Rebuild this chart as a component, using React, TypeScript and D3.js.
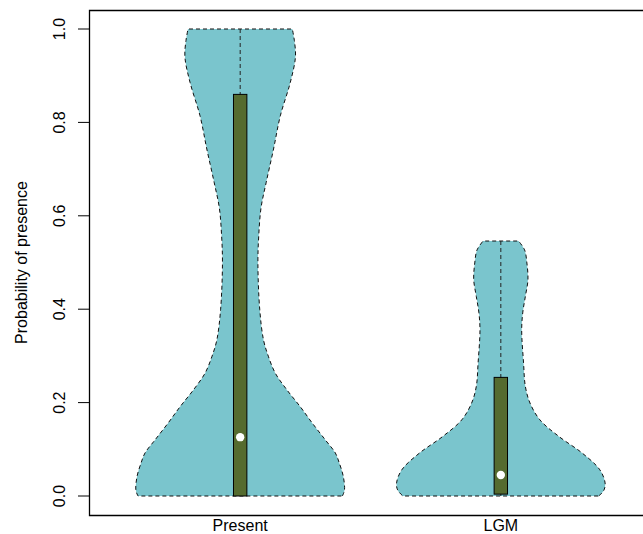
import React from 'react'
import * as d3 from 'd3'

// violin outlines: probability level and relative density (max = 1)
const categories = ['Present', 'LGM']

const presentLevels = [0, 0.012, 0.041, 0.071, 0.092, 0.12, 0.156, 0.191, 0.227, 0.263, 0.298, 0.334, 0.4, 0.499, 0.557, 0.617, 0.672, 0.743, 0.814, 0.885, 0.94, 0.975, 1.0]
const presentDensity = [0.98, 1.0, 0.99, 0.95, 0.913, 0.817, 0.692, 0.577, 0.449, 0.337, 0.272, 0.224, 0.1875, 0.17, 0.178, 0.2, 0.25, 0.32, 0.385, 0.48, 0.53, 0.52, 0.5]

const lgmLevels = [0, 0.013, 0.028, 0.056, 0.092, 0.127, 0.163, 0.199, 0.235, 0.285, 0.355, 0.392, 0.427, 0.463, 0.499, 0.527, 0.546]
const lgmDensity = [0.94, 0.99, 1.0, 0.95, 0.78, 0.56, 0.375, 0.28, 0.235, 0.218, 0.2, 0.21, 0.235, 0.26, 0.25, 0.228, 0.17]

// box summaries: min, q1, median, q3, max
const presentStats = [0, 0, 0.126, 0.86, 1.0]
const lgmStats = [0, 0.004, 0.045, 0.254, 0.546]

const yTicks = [0, 0.2, 0.4, 0.6, 0.8, 1.0]

const W = 643
const H = 534
const font = '"Liberation Sans", Arial, Helvetica, sans-serif'
const fs = 16

export default function App() {
  const x = d3.scaleLinear().domain([0.42, 2.58]).range([89, 652])
  const y = d3.scaleLinear().domain([0, 1]).range([496, 29])
  const wex = 0.4
  const boxHalf = 0.0257

  const series = [
    { name: categories[0], levels: presentLevels, dens: presentDensity, stats: presentStats },
    { name: categories[1], levels: lgmLevels, dens: lgmDensity, stats: lgmStats },
  ]

  const top = 10
  const bottom = 515
  const left = x(0.42)
  const right = x(2.58)

  return <svg width={W} height={H} style={{ position: 'absolute', left: 0, top: 0, background: 'white' }}>
    {series.map((s, i) => {
      const c = i + 1
      const pts = s.levels.map((v, j) => ({ v, d: s.dens[j] }))
      const area = d3.area<{ v: number, d: number }>()
        .y(p => y(p.v))
        .x0(p => x(c - p.d * wex))
        .x1(p => x(c + p.d * wex))
        .curve(d3.curveCatmullRom)
      const [mn, q1, med, q3, mx] = s.stats
      return <g key={s.name}>
        <path d={area(pts) || ''} fill="#7AC5CD" stroke="#111" strokeWidth={1} strokeDasharray="4,3" />
        <line x1={x(c)} x2={x(c)} y1={y(mx)} y2={y(mn)} stroke="#222" strokeWidth={1} strokeDasharray="4,3" />
        <rect x={x(c - boxHalf)} y={y(q3)} width={x(c + boxHalf) - x(c - boxHalf)} height={y(q1) - y(q3)}
              fill="#556B2F" stroke="black" strokeWidth={1} />
        <circle cx={x(c)} cy={y(med)} r={4.2} fill="white" />
        <text x={x(c)} y={531} textAnchor="middle" fontFamily={font} fontSize={fs}>{s.name}</text>
      </g>
    })}

    <path d={`M${right},${top + 0.5}H${left + 0.5}V${bottom + 0.5}H${right}`} fill="none" stroke="black" strokeWidth={1.3} />

    {yTicks.map(t => <g key={t}>
      <line x1={78} x2={left} y1={y(t)} y2={y(t)} stroke="black" strokeWidth={1} />
      <text transform={`translate(65,${y(t)}) rotate(-90)`} textAnchor="middle" fontFamily={font} fontSize={fs}>
        {t.toFixed(1)}
      </text>
    </g>)}

    <text transform={`translate(27,${(top + bottom) / 2}) rotate(-90)`} textAnchor="middle" fontFamily={font} fontSize={fs}>
      Probability of presence
    </text>
  </svg>
}
